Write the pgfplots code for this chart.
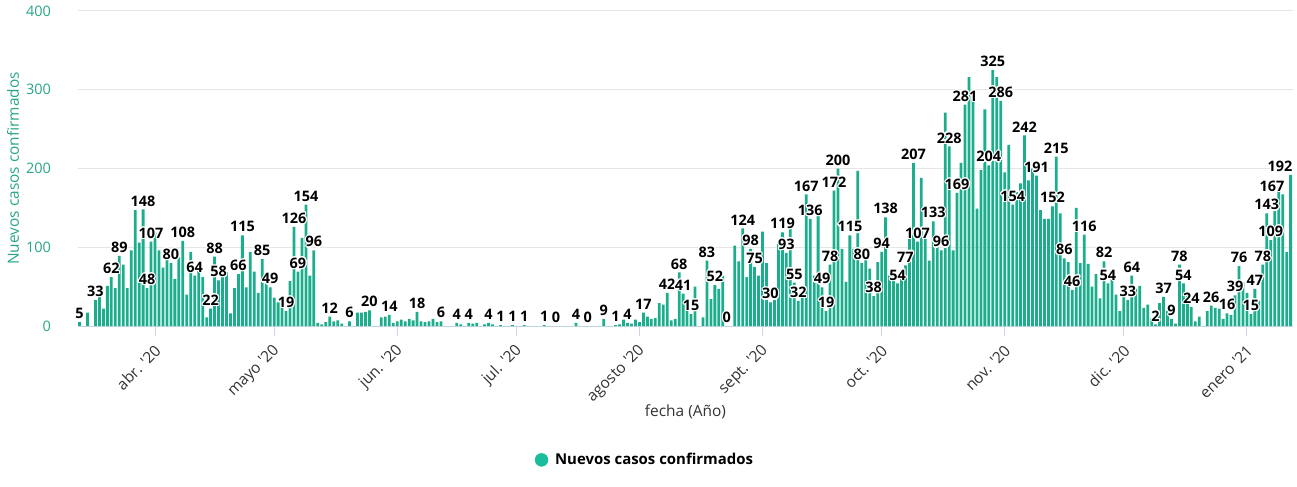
\documentclass[border=0pt]{standalone}
\usepackage{pgfplots}
\pgfplotsset{compat=1.18}
\usepackage{pgfplotstable}
\usepackage{fontspec}
\usepackage[copies]{contour}
\contourlength{1.1bp}
\contournumber{16}
\setmainfont{Open Sans}
\definecolor{barcol}{RGB}{27,173,140}
\definecolor{legcol}{RGB}{26,188,156}
\definecolor{tealtxt}{RGB}{40,165,135}
\definecolor{gridcol}{RGB}{230,230,230}
\definecolor{axiscol}{RGB}{204,214,235}
\definecolor{txtdark}{RGB}{51,51,51}
\pgfplotstableread{
d v
-19 5
-18 0
-17 17
-16 0
-15 33
-14 41
-13 22
-12 51
-11 62
-10 48
-9 89
-8 78
-7 48
-6 96
-5 147
-4 106
-3 148
-2 48
-1 107
0 119
1 96
2 74
3 88
4 80
5 60
6 87
7 108
8 40
9 94
10 64
11 72
12 62
13 11
14 22
15 88
16 58
17 68
18 68
19 16
20 48
21 66
22 115
23 49
24 94
25 69
26 42
27 85
28 59
29 49
30 36
31 30
32 30
33 19
34 57
35 126
36 69
37 112
38 154
39 64
40 96
41 4
42 2
43 5
44 12
45 6
46 7
47 3
48 0
49 6
50 0
51 17
52 17
53 18
54 20
55 0
56 0
57 11
58 12
59 14
60 4
61 6
62 8
63 6
64 9
65 7
66 18
67 6
68 5
69 6
70 9
71 5
72 6
73 0
74 0
75 0
76 4
77 2
78 0
79 4
80 3
81 4
82 0
83 2
84 4
85 2
86 0
87 1
88 0
89 0
90 1
91 0
92 0
93 1
94 0
95 0
96 0
97 0
98 1
99 0
100 0
101 0
102 0
103 0
104 0
105 0
106 4
107 0
108 0
109 0
110 0
111 0
112 0
113 9
114 0
115 0
116 1
117 2
118 8
119 4
120 3
121 8
122 5
123 17
124 12
125 9
126 10
127 29
128 27
129 42
130 7
131 9
132 68
133 41
134 23
135 15
136 50
137 0
138 11
139 83
140 34
141 52
142 47
143 64
144 0
145 0
146 102
147 82
148 124
149 62
150 98
151 75
152 64
153 120
154 80
155 30
156 38
157 104
158 119
159 93
160 132
161 55
162 32
163 42
164 167
165 136
166 64
167 145
168 49
169 19
170 78
171 172
172 200
173 98
174 56
175 115
176 98
177 197
178 80
179 89
180 73
181 38
182 81
183 94
184 138
185 64
186 64
187 54
188 64
189 77
190 119
191 207
192 107
193 188
194 111
195 83
196 133
197 106
198 96
199 271
200 228
201 96
202 169
203 207
204 281
205 316
206 291
207 149
208 198
209 275
210 204
211 325
212 316
213 286
214 195
215 230
216 154
217 170
218 181
219 242
220 185
221 200
222 191
223 147
224 136
225 136
226 152
227 215
228 143
229 86
230 81
231 46
232 150
233 80
234 116
235 79
236 50
237 66
238 35
239 82
240 54
241 60
242 40
243 19
244 41
245 33
246 64
247 47
248 51
249 23
250 27
251 10
252 2
253 29
254 37
255 19
256 9
257 3
258 78
259 54
260 40
261 24
262 6
263 12
264 0
265 19
266 26
267 23
268 22
269 9
270 16
271 14
272 39
273 76
274 55
275 42
276 15
277 47
278 32
279 78
280 143
281 109
282 151
283 176
284 167
285 94
286 192
}\casos
\pgfplotstableread{
d v
-19 5
-15 33
-11 62
-9 89
-3 148
-2 48
-1 107
4 80
7 108
10 64
14 22
15 88
16 58
21 66
22 115
27 85
29 49
33 19
35 126
36 69
38 154
40 96
44 12
49 6
54 20
59 14
66 18
72 6
76 4
79 4
84 4
87 1
90 1
93 1
98 1
101 0
106 4
109 0
113 9
116 1
119 4
123 17
129 42
132 68
133 41
135 15
139 83
141 52
144 0
148 124
150 98
151 75
155 30
158 119
159 93
161 55
162 32
164 167
165 136
168 49
169 19
170 78
171 172
172 200
175 115
178 80
181 38
183 94
184 138
187 54
189 77
191 207
192 107
196 133
198 96
200 228
202 169
204 281
210 204
211 325
213 286
216 154
219 242
222 191
226 152
227 215
229 86
231 46
234 116
239 82
240 54
245 33
246 64
252 2
254 37
256 9
258 78
259 54
261 24
266 26
270 16
272 39
273 76
276 15
277 47
279 78
280 143
281 109
}\etiquetas
\pgfplotstableread{
d v
284 167
286 192
}\etiqfin
\begin{document}
\begin{tikzpicture}
\begin{axis}[
  scale only axis,
  width=1215bp, height=315bp,
  xmin=-19.4, xmax=286.6,
  ymin=0, ymax=400,
  ytick={0,100,200,300,400},
  xtick={0,30,61,91,122,153,183,214,244,275},
  xticklabels={{abr. \textquotesingle 20},{mayo \textquotesingle 20},{jun. \textquotesingle 20},{jul. \textquotesingle 20},{agosto \textquotesingle 20},{sept. \textquotesingle 20},{oct. \textquotesingle 20},{nov. \textquotesingle 20},{dic. \textquotesingle 20},{enero \textquotesingle 21}},
  /pgf/number format/assume math mode=true,
  axis x line*=bottom,
  axis y line*=left,
  y axis line style={draw=none},
  x axis line style={draw=axiscol, line width=1bp},
  ytick style={draw=none},
  xtick style={draw=axiscol, line width=1bp},
  tick align=outside,
  major tick length=10bp,
  ymajorgrids,
  grid style={draw=gridcol, line width=1bp},
  yticklabel style={font=\fontsize{14.5}{16}\selectfont, text=tealtxt, anchor=east, inner sep=0pt, xshift=-17bp},
  xticklabel style={font=\fontsize{15.5}{17}\selectfont, text=txtdark, xshift=3bp, yshift=-12bp, rotate=45, anchor=east, inner sep=0pt},
  xlabel={fecha (Año)},
  xlabel style={font=\fontsize{15.5}{18}\selectfont, text=txtdark, at={(axis description cs:0.5,-0.273)}, anchor=center},
  ylabel={Nuevos casos confirmados},
  every axis y label/.style={font=\fontsize{15.5}{18}\selectfont, text=tealtxt, at={(axis description cs:-0.0535,0.5)}, rotate=90, anchor=center},
  legend style={at={(axis description cs:0.4667,-0.425)}, anchor=center, draw=none, fill=none, font=\bfseries\fontsize{15}{18}\selectfont, text=black, /tikz/every odd column/.append style={column sep=5bp}},
  legend cell align=left,
  clip=false,
]
\addplot[ybar, bar width=0.7, fill=barcol, draw=none, forget plot] table[x=d, y=v] {\casos};
\addplot[forget plot, only marks, mark=*, mark size=0pt, mark options={draw=none, fill=none},
  nodes near coords={\contour{white}{\pgfmathprintnumber{\pgfplotspointmeta}}}, point meta=y,
  nodes near coords style={font=\bfseries\fontsize{14.5}{16}\selectfont, text=black, anchor=south, inner sep=2bp}]
  table[x=d, y=v] {\etiquetas};
\addplot[forget plot, only marks, mark=*, mark size=0pt, mark options={draw=none, fill=none},
  nodes near coords={\contour{white}{\pgfmathprintnumber{\pgfplotspointmeta}}}, point meta=y,
  nodes near coords style={font=\bfseries\fontsize{14.5}{16}\selectfont, text=black, anchor=south east, inner sep=2bp, xshift=4bp}]
  table[x=d, y=v] {\etiqfin};
\addlegendimage{only marks, mark=*, mark size=6.5bp, mark options={fill=legcol, draw=legcol}}
\addlegendentry{Nuevos casos confirmados}
\end{axis}
\pgfresetboundingbox
\path (-78bp,-161bp) rectangle (1219bp,326bp);
\end{tikzpicture}
\end{document}
